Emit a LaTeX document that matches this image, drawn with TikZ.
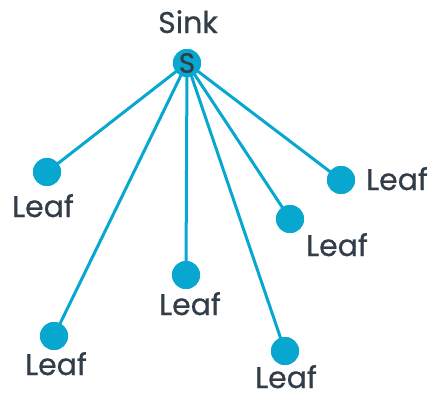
\documentclass[tikz,border=0pt]{standalone}
\usepackage{fontspec}
\setmainfont{Poppins}[FakeBold=0.6]
\definecolor{cy}{HTML}{08A7CF}
\definecolor{tx}{HTML}{333D47}
\begin{document}
\begin{tikzpicture}[x=1pt,y=-1pt,
  leafnode/.style={circle,fill=cy,inner sep=0pt,minimum size=28pt},
  sinknode/.style={circle,fill=cy,inner sep=0pt,minimum size=28pt,text=tx,font=\fontsize{28}{28}\selectfont},
  lbl/.style={text=tx,font=\fontsize{30}{30}\selectfont,inner sep=0pt,anchor=base},
  edge/.style={draw=cy,line width=3pt}]
\path[use as bounding box] (0,0) rectangle (437,397);
\node[sinknode] (s) at (187,63) {};
\node[lbl] (sl) at (188,33) {Sink};
\node[leafnode] (l1) at (47,172) {};
\node[leafnode] (l2) at (54,336) {};
\node[leafnode] (l3) at (186,275) {};
\node[leafnode] (l4) at (290,219) {};
\node[leafnode] (l5) at (341,180) {};
\node[leafnode] (l6) at (285,351) {};
\node[lbl] (t1) at (43,217) {Leaf};
\node[lbl] (t2) at (56,375) {Leaf};
\node[lbl] (t3) at (190,315) {Leaf};
\node[lbl] (t4) at (337,256) {Leaf};
\node[lbl] (t5) at (397,190) {Leaf};
\node[lbl] (t6) at (286,388) {Leaf};
\foreach \l in {l1,l2,l3,l4,l5,l6} \draw[edge] (s.center) -- (\l.center);
\node[sinknode] at (s) {S};
\foreach \l in {l1,l2,l3,l4,l5,l6} \node[leafnode] at (\l) {};
\end{tikzpicture}
\end{document}
